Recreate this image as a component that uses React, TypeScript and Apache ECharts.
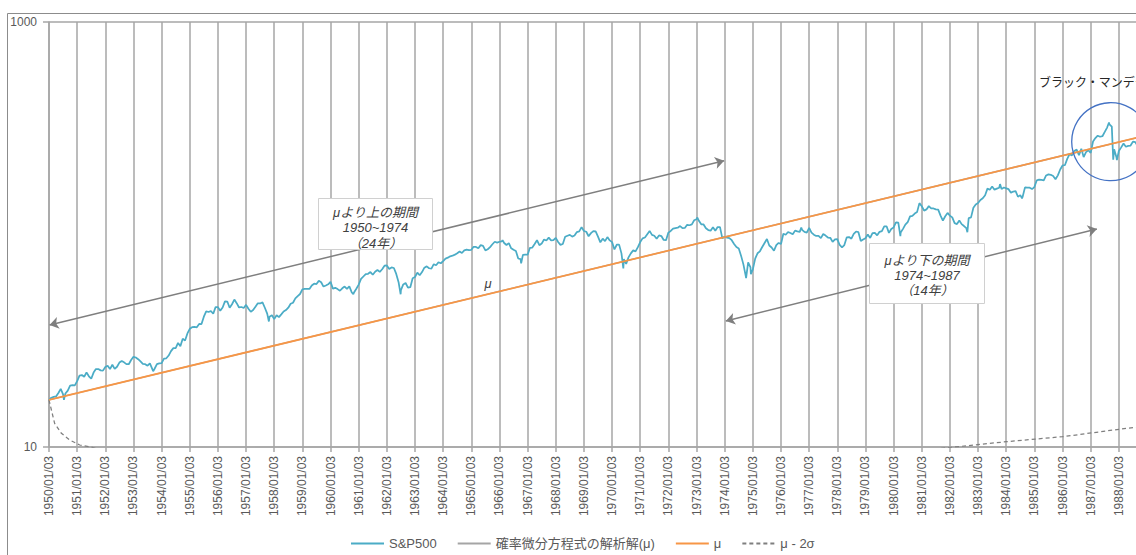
import React, { useEffect, useRef } from "react";
import * as echarts from "echarts";

const FONT = "'Liberation Sans', 'Noto Sans CJK JP', sans-serif";

// S&P500 monthly closes (Jan..Dec), start value at 1950/01/03
const spxStart = 16.66;
const spx1950s = [
  17.05, 17.22, 17.29, 17.96, 18.78, 17.69, 17.84, 18.42, 19.45, 19.53, 19.51, 20.41,
  21.66, 21.8, 21.4, 22.43, 21.52, 20.96, 22.4, 23.28, 23.26, 22.94, 22.88, 23.77,
  24.14, 23.26, 24.37, 23.32, 23.86, 24.96, 25.4, 25.03, 24.54, 24.52, 25.66, 26.57,
  26.38, 25.9, 25.29, 24.62, 24.54, 24.14, 24.75, 23.32, 23.35, 24.54, 24.76, 24.81,
  26.08, 26.15, 26.94, 28.26, 29.19, 29.21, 30.88, 29.83, 32.31, 31.68, 34.24, 35.98,
  36.63, 36.76, 36.58, 37.96, 37.91, 41.03, 43.52, 43.18, 43.67, 42.34, 45.51, 45.48,
  43.82, 45.34, 48.48, 48.38, 45.2, 46.97, 49.39, 47.51, 45.35, 45.58, 45.08, 46.67,
  44.72, 43.26, 44.11, 45.74, 47.43, 47.37, 47.91, 45.22, 42.42, 41.06, 41.72, 39.99,
  41.7, 40.84, 42.1, 43.44, 44.09, 45.24, 47.19, 47.75, 50.06, 51.33, 52.48, 55.21,
  55.42, 55.41, 55.44, 57.59, 58.68, 58.47, 60.51, 59.6, 56.88, 57.52, 58.28, 59.89,
];
const spx1960s = [
  55.61, 56.12, 55.34, 54.37, 55.83, 56.92, 55.51, 56.96, 53.52, 53.39, 55.54, 58.11,
  61.78, 63.44, 65.06, 65.31, 66.56, 64.64, 66.76, 68.07, 66.73, 68.62, 71.32, 71.55,
  68.84, 69.96, 69.55, 65.24, 59.63, 54.75, 58.23, 59.12, 56.27, 56.52, 62.26, 63.1,
  66.2, 64.29, 66.57, 69.8, 70.8, 69.37, 69.13, 72.5, 71.7, 74.01, 73.23, 75.02,
  77.04, 77.8, 78.98, 79.46, 80.37, 81.69, 83.18, 81.83, 84.18, 84.86, 84.42, 84.75,
  87.56, 87.43, 86.16, 89.11, 88.42, 84.12, 85.25, 87.17, 89.96, 92.42, 91.61, 92.43,
  92.88, 91.22, 89.23, 91.06, 86.13, 84.74, 83.6, 77.1, 76.56, 80.2, 80.45, 80.33,
  86.61, 86.78, 90.2, 94.01, 89.08, 90.64, 94.75, 93.64, 96.71, 93.9, 94.0, 96.47,
  92.24, 89.36, 90.2, 97.59, 98.68, 99.58, 97.74, 98.86, 102.67, 103.41, 108.37, 103.86,
  103.01, 98.13, 101.51, 103.69, 103.46, 97.71, 91.83, 95.51, 93.12, 97.24, 93.81, 92.06,
];
const spx1970s = [
  85.02, 89.5, 89.63, 81.52, 76.55, 72.72, 78.05, 81.52, 84.21, 83.25, 87.2, 92.15,
  95.88, 96.75, 100.31, 103.95, 99.63, 98.7, 95.58, 99.03, 98.34, 94.23, 93.99, 102.09,
  103.94, 106.57, 107.2, 107.67, 109.53, 107.14, 107.39, 111.09, 110.55, 111.58, 116.67, 118.05,
  116.03, 111.68, 111.52, 106.97, 104.95, 104.26, 108.22, 104.25, 108.43, 108.29, 95.96, 97.55,
  96.57, 96.22, 93.98, 90.31, 87.28, 86.0, 79.31, 72.15, 63.54, 73.9, 69.97, 68.56,
  76.98, 81.59, 83.36, 87.3, 91.15, 95.19, 88.75, 86.88, 83.87, 89.04, 91.24, 90.19,
  100.86, 99.71, 102.77, 101.64, 100.18, 104.28, 103.44, 102.91, 105.24, 102.9, 102.1, 107.46,
  102.03, 99.82, 98.42, 98.44, 96.12, 100.48, 98.85, 96.77, 96.53, 92.34, 94.83, 95.1,
  89.25, 87.04, 89.21, 96.83, 97.24, 95.53, 100.68, 103.29, 102.54, 93.15, 94.7, 96.11,
  99.93, 96.28, 101.59, 101.76, 99.08, 102.91, 103.81, 109.32, 109.32, 101.82, 106.16, 107.94,
];
const spx1980s = [
  114.16, 113.66, 102.09, 106.29, 111.24, 114.24, 121.67, 122.38, 125.46, 127.47, 140.52, 135.76,
  129.55, 131.27, 136.0, 132.81, 132.59, 131.21, 130.92, 122.79, 116.18, 121.89, 126.35, 122.55,
  120.4, 113.11, 111.96, 116.44, 111.88, 109.61, 107.09, 119.51, 120.42, 133.71, 138.54, 140.64,
  145.3, 148.06, 152.96, 164.42, 162.39, 168.11, 162.56, 164.4, 166.07, 163.55, 166.4, 164.93,
  163.41, 157.06, 159.18, 160.05, 150.55, 153.18, 150.66, 166.68, 166.1, 166.09, 163.58, 167.24,
  179.63, 181.18, 180.66, 179.83, 189.55, 191.85, 190.92, 188.63, 182.08, 189.82, 202.17, 211.28,
  211.78, 226.92, 238.9, 235.52, 247.35, 250.84, 236.12, 252.93, 231.32, 243.98, 249.22, 242.17,
  274.08, 284.2, 291.7, 288.36, 290.1, 304.0, 318.66, 329.8, 321.83, 251.79, 230.3, 247.08,
  257.07, 267.82, 258.89, 261.33, 262.16, 273.5, 272.02, 261.52, 271.91, 278.97, 273.7, 277.72,
];
// intra-month extremes [decimal year, value]
const spxExtremes: [number, number][] = [
  [1950.53, 16.68], [1953.7, 22.71], [1957.81, 38.98], [1960.81, 52.3], [1962.49, 52.32],
  [1966.11, 94.06], [1966.77, 73.2], [1970.4, 69.29], [1973.03, 120.24], [1974.76, 62.28],
  [1974.93, 65.01], [1976.72, 107.83], [1978.18, 86.9], [1980.24, 98.22], [1982.62, 102.42],
  [1983.78, 172.65], [1984.56, 147.82], [1987.65, 336.77], [1987.8, 224.84], [1987.93, 223.92],
];

// μ line (straight on log scale)
const muYears = [1950, 1989];
const muValues = [16.66, 293];

// μ - 2σ curve
const lowYears = [1950, 1950.085, 1950.2, 1950.44, 1950.735, 1951.09, 1951.5, 1953, 1955, 1960, 1965, 1970, 1975, 1980, 1982.17, 1984, 1986, 1988, 1989];
const lowValues = [16.66, 14.93, 12.93, 11.6, 10.79, 10.22, 10.0, 8.6, 7.8, 7.0, 7.0, 7.5, 8.3, 9.4, 10.0, 10.59, 11.18, 12.11, 12.55];

// annotation arrows [x1, y1, x2, y2] in data coordinates
const arrowAbove = [1950.02, 37.5, 1973.98, 222.5];
const arrowBelow = [1974.04, 39.2, 1987.22, 106.2];

const seriesNames = ["S&P500", "確率微分方程式の解析解(μ)", "μ", "μ - 2σ"];

const GRID = "#a6a6a6";
const LABEL = "#595959";

export default function App() {
  const ref = useRef<HTMLDivElement>(null);
  useEffect(() => {
    if (!ref.current) return;
    const chart = echarts.init(ref.current, undefined, { renderer: "svg" });

    const monthly = [...spx1950s, ...spx1960s, ...spx1970s, ...spx1980s];
    const spx: [number, number][] = [[1950, spxStart]];
    monthly.forEach((v, i) => spx.push([1950 + (i + 1) / 12, v]));
    spxExtremes.forEach((p) => spx.push(p));
    spx.sort((a, b) => a[0] - b[0]);

    const mu = muYears.map((y, i) => [y, muValues[i]]);
    const low = lowYears.map((y, i) => [y, lowValues[i]]);

    const gridLine = { color: GRID, width: 1.5 };

    chart.setOption({
      animation: false,
      textStyle: { fontFamily: FONT },
      grid: { left: 49, top: 22, right: 13, bottom: 128, containLabel: false },
      legend: {
        left: 350,
        top: 537,
        padding: 0,
        itemGap: 20,
        itemWidth: 33,
        itemHeight: 14,
        itemStyle: { opacity: 0 },
        data: seriesNames,
        textStyle: { fontSize: 13, color: LABEL, fontFamily: FONT },
      },
      xAxis: {
        type: "value",
        min: 1950,
        max: 1989,
        interval: 1,
        axisLine: { show: true, lineStyle: gridLine },
        axisTick: { show: true, length: 5, lineStyle: gridLine },
        splitLine: { show: true, lineStyle: gridLine },
        axisLabel: {
          rotate: 90,
          margin: 9,
          fontSize: 12,
          color: LABEL,
          fontFamily: FONT,
          formatter: (v: number) => {
            const y = Math.round(v);
            return y >= 1989 ? "" : `${y}/01/03`;
          },
        },
      },
      yAxis: [
        {
          type: "log",
          logBase: 10,
          min: 10,
          max: 1000,
          axisLine: { show: false },
          axisTick: { show: false },
          splitLine: { show: false },
          axisLabel: {
            margin: 12,
            fontSize: 12,
            color: LABEL,
            fontFamily: FONT,
            formatter: (v: number) => {
              const r = Math.round(v);
              return r === 10 || r === 1000 ? String(r) : "";
            },
          },
        },
        {
          type: "value",
          min: 0,
          max: 1,
          interval: 1,
          position: "left",
          axisLine: { show: true, lineStyle: gridLine },
          axisTick: { show: true, length: 6, lineStyle: gridLine },
          axisLabel: { show: false },
          splitLine: { show: true, lineStyle: gridLine },
        },
      ],
      series: [
        {
          name: seriesNames[0],
          type: "line",
          yAxisIndex: 0,
          data: spx,
          symbol: "none",
          showSymbol: false,
          z: 3,
          lineStyle: { color: "#4BACC6", width: 1.75 },
          itemStyle: { color: "#4BACC6" },
          markLine: {
            silent: true,
            symbol: ["arrow", "arrow"],
            symbolSize: 9,
            label: { show: false },
            lineStyle: { color: "#7f7f7f", width: 1.5, type: "solid" },
            data: [
              [{ coord: [arrowAbove[0], arrowAbove[1]] }, { coord: [arrowAbove[2], arrowAbove[3]] }],
              [{ coord: [arrowBelow[0], arrowBelow[1]] }, { coord: [arrowBelow[2], arrowBelow[3]] }],
            ],
          },
        },
        {
          name: seriesNames[1],
          type: "line",
          yAxisIndex: 0,
          data: mu,
          symbol: "none",
          showSymbol: false,
          z: 2,
          lineStyle: { color: "#A5A5A5", width: 1.5 },
          itemStyle: { color: "#A5A5A5" },
        },
        {
          name: seriesNames[2],
          type: "line",
          yAxisIndex: 0,
          data: mu,
          symbol: "none",
          showSymbol: false,
          z: 4,
          lineStyle: { color: "#F79646", width: 1.75 },
          itemStyle: { color: "#F79646" },
        },
        {
          name: seriesNames[3],
          type: "line",
          yAxisIndex: 0,
          data: low,
          symbol: "none",
          showSymbol: false,
          z: 2,
          lineStyle: { color: "#7f7f7f", width: 1.25, type: [4, 3] },
          itemStyle: { color: "#7f7f7f" },
        },
      ],
      graphic: [
        {
          type: "rect",
          z: 0,
          silent: true,
          shape: { x: 7.5, y: 13.5, width: 1300, height: 700 },
          style: { fill: "none", stroke: "#8c8c8c", lineWidth: 1 },
        },
        {
          type: "rect",
          z: 100,
          shape: { x: 318.5, y: 198.5, width: 114, height: 51 },
          style: { fill: "#ffffff", stroke: "#d0d0d0", lineWidth: 1 },
        },
        {
          type: "text",
          z: 101,
          x: 375.5,
          y: 227.5,
          style: {
            text: "μより上の期間\n1950~1974\n（24年）",
            align: "center",
            verticalAlign: "middle",
            lineHeight: 15.5,
            fontSize: 13,
            fontStyle: "italic",
            fontFamily: FONT,
            fill: "#404040",
          },
        },
        {
          type: "rect",
          z: 100,
          shape: { x: 869.5, y: 243.5, width: 115, height: 60 },
          style: { fill: "#ffffff", stroke: "#d0d0d0", lineWidth: 1 },
        },
        {
          type: "text",
          z: 101,
          x: 927,
          y: 275,
          style: {
            text: "μより下の期間\n1974~1987\n（14年）",
            align: "center",
            verticalAlign: "middle",
            lineHeight: 15,
            fontSize: 13,
            fontStyle: "italic",
            fontFamily: FONT,
            fill: "#404040",
          },
        },
        {
          type: "text",
          z: 101,
          x: 488,
          y: 283,
          style: {
            text: "μ",
            align: "center",
            verticalAlign: "middle",
            fontSize: 13,
            fontStyle: "italic",
            fontFamily: FONT,
            fill: "#404040",
          },
        },
        {
          type: "circle",
          z: 101,
          shape: { cx: 1110.7, cy: 141.7, r: 39 },
          style: { fill: "none", stroke: "#4472C4", lineWidth: 1.3 },
        },
        {
          type: "text",
          z: 101,
          x: 1039,
          y: 83,
          style: {
            text: "ブラック・マンデー",
            align: "left",
            verticalAlign: "middle",
            fontSize: 12,
            fontFamily: FONT,
            fill: "#262626",
          },
        },
      ],
    });
    return () => chart.dispose();
  }, []);

  return (
    <div
      style={{
        position: "fixed",
        left: 0,
        top: 0,
        width: 1136,
        height: 555,
        overflow: "hidden",
        background: "#ffffff",
      }}
    >
      <div ref={ref} style={{ width: 1160, height: 575 }} />
    </div>
  );
}
